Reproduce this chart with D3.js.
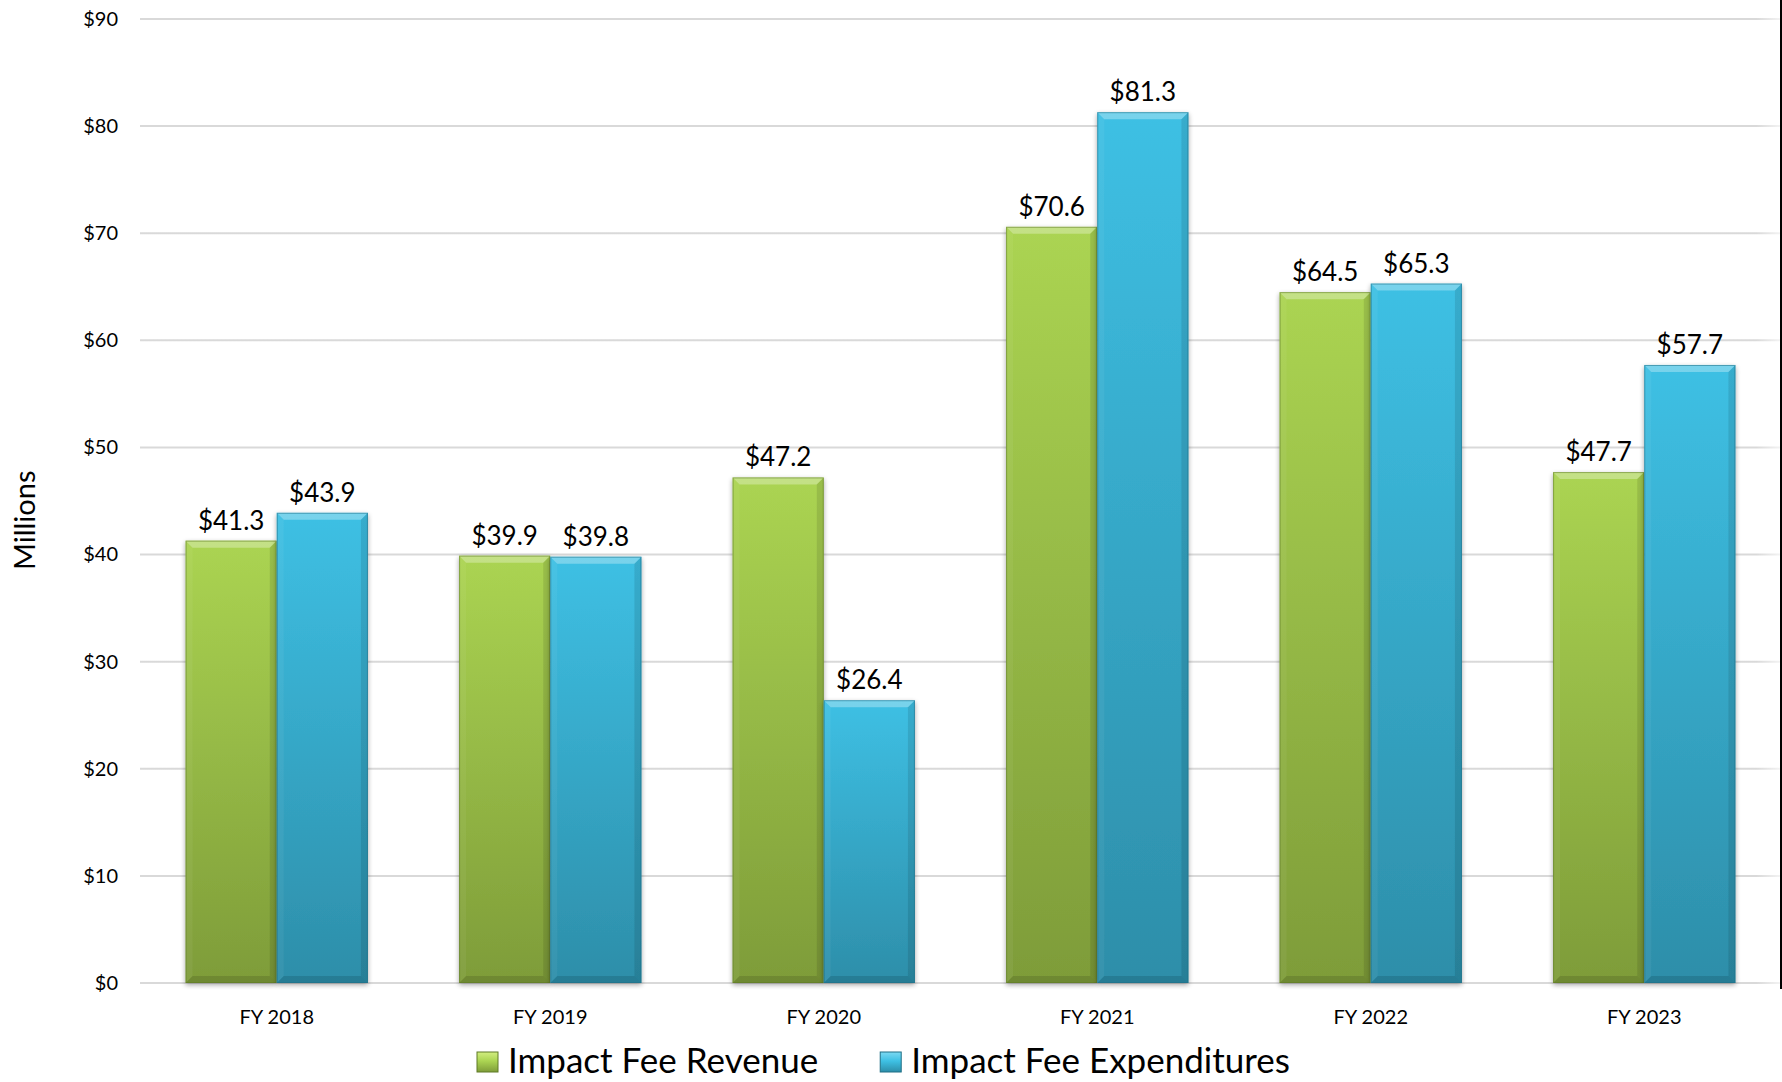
<!DOCTYPE html>
<html>
<head>
<meta charset="utf-8">
<script src="https://cdn.jsdelivr.net/npm/d3@7"></script>
<style>
  html, body { margin: 0; padding: 0; background: #fff; }
  svg { display: block; font-family: Lato, "Open Sans", sans-serif; }
</style>
</head>
<body>
<div id="chart"></div>
<script>
// chart data
var years = ["FY 2018", "FY 2019", "FY 2020", "FY 2021", "FY 2022", "FY 2023"];
var revenue = [41.3, 39.9, 47.2, 70.6, 64.5, 47.7];
var expenditures = [43.9, 39.8, 26.4, 81.3, 65.3, 57.7];
var seriesNames = ["Impact Fee Revenue", "Impact Fee Expenditures"];
var yTicks = [0, 10, 20, 30, 40, 50, 60, 70, 80, 90];

var svgWidth = 1782;
var svgHeight = 1082;

var margin = { top: 19, right: 1, bottom: 99, left: 140 };
var width = svgWidth - margin.left - margin.right;
var height = svgHeight - margin.top - margin.bottom;

var svg = d3.select("#chart")
  .append("svg")
  .attr("width", svgWidth)
  .attr("height", svgHeight);

var defs = svg.append("defs");

// colour ramps for the two series (top -> bottom)
var palettes = [
  { top: "#abd452", bottom: "#7e9c39", edge: "#5f7a26", light: "#d2ee80" },
  { top: "#3ec0e4", bottom: "#2d8ea9", edge: "#1f6f86", light: "#7cd9f2" }
];

palettes.forEach(function(p, i) {
  var g = defs.append("linearGradient")
    .attr("id", "grad" + i)
    .attr("x1", 0).attr("y1", 0).attr("x2", 0).attr("y2", 1);
  g.append("stop").attr("offset", "0%").attr("stop-color", p.top);
  g.append("stop").attr("offset", "100%").attr("stop-color", p.bottom);
});

// soft shadow round the bars
var shadow = defs.append("filter")
  .attr("id", "shadow")
  .attr("x", "-20%").attr("y", "-5%")
  .attr("width", "140%").attr("height", "110%");
shadow.append("feGaussianBlur").attr("in", "SourceAlpha").attr("stdDeviation", 2.5);
shadow.append("feOffset").attr("dx", 0).attr("dy", 2).attr("result", "blur");
shadow.append("feComponentTransfer").append("feFuncA").attr("type", "linear").attr("slope", 0.35);
var merge = shadow.append("feMerge");
merge.append("feMergeNode");
merge.append("feMergeNode").attr("in", "SourceGraphic");

// gridlines fade out at the right edge
var fade = defs.append("linearGradient")
  .attr("id", "gridFade")
  .attr("gradientUnits", "userSpaceOnUse")
  .attr("x1", 0).attr("x2", width).attr("y1", 0).attr("y2", 0);
fade.append("stop").attr("offset", "0.985").attr("stop-color", "#d9d9d9");
fade.append("stop").attr("offset", "1").attr("stop-color", "#f4f4f4");

var chartGroup = svg.append("g")
  .attr("transform", `translate(${margin.left}, ${margin.top})`);

// scales
var xScale = d3.scaleBand()
  .domain(years)
  .range([0, width])
  .paddingInner(1 / 3)
  .paddingOuter(1 / 6);

var xSub = d3.scaleBand()
  .domain([0, 1])
  .range([0, xScale.bandwidth()]);

var yScale = d3.scaleLinear()
  .domain([0, 90])
  .range([height, 0]);

// gridlines
chartGroup.append("g")
  .selectAll("line")
  .data(yTicks)
  .enter()
  .append("line")
  .attr("x1", 0)
  .attr("x2", width)
  .attr("y1", d => yScale(d))
  .attr("y2", d => yScale(d))
  .attr("stroke", "url(#gridFade)")
  .attr("stroke-width", 2);

// y axis labels
var yAxis = d3.axisLeft(yScale)
  .tickValues(yTicks)
  .tickSize(0)
  .tickPadding(22)
  .tickFormat(d => "$" + d);

var yAxisGroup = chartGroup.append("g").call(yAxis);
yAxisGroup.select(".domain").remove();
yAxisGroup.selectAll("text")
  .attr("font-family", "Lato, 'Open Sans', sans-serif")
  .attr("font-size", "20px")
  .attr("fill", "#000");

// x axis labels
var xAxis = d3.axisBottom(xScale).tickSize(0).tickPadding(27);
var xAxisGroup = chartGroup.append("g")
  .attr("transform", `translate(0, ${height})`)
  .call(xAxis);
xAxisGroup.select(".domain").remove();
xAxisGroup.selectAll("text")
  .attr("font-family", "Lato, 'Open Sans', sans-serif")
  .attr("font-size", "20px")
  .attr("fill", "#000");

// y axis title
svg.append("text")
  .attr("transform", "rotate(-90)")
  .attr("x", -(margin.top + yScale(43.2)))
  .attr("y", 35)
  .attr("text-anchor", "middle")
  .attr("font-size", "29px")
  .attr("fill", "#000")
  .text("Millions");

// bars
var barData = [];
years.forEach(function(yr, i) {
  barData.push({ year: yr, s: 0, value: revenue[i] });
  barData.push({ year: yr, s: 1, value: expenditures[i] });
});

var bev = 7;

var bars = chartGroup.append("g")
  .selectAll("g.bar")
  .data(barData)
  .enter()
  .append("g")
  .attr("class", "bar")
  .attr("filter", "url(#shadow)");

bars.append("rect")
  .attr("x", d => xScale(d.year) + xSub(d.s))
  .attr("y", d => yScale(d.value))
  .attr("width", xSub.bandwidth())
  .attr("height", d => height - yScale(d.value))
  .attr("fill", d => "url(#grad" + d.s + ")");

// bevel edges
function bevelPts(d, side) {
  var x0 = xScale(d.year) + xSub(d.s);
  var x1 = x0 + xSub.bandwidth();
  var y0 = yScale(d.value);
  var y1 = height;
  if (side === "top") return [[x0, y0], [x1, y0], [x1 - bev, y0 + bev], [x0 + bev, y0 + bev]];
  if (side === "left") return [[x0, y0], [x0 + bev, y0 + bev], [x0 + bev, y1 - bev], [x0, y1]];
  if (side === "right") return [[x1, y0], [x1, y1], [x1 - bev, y1 - bev], [x1 - bev, y0 + bev]];
  return [[x0, y1], [x0 + bev, y1 - bev], [x1 - bev, y1 - bev], [x1, y1]];
}

var bevelStyle = {
  top: { fill: "#ffffff", op: 0.3 },
  left: { fill: "#ffffff", op: 0.05 },
  right: { fill: "#000000", op: 0.1 },
  bottom: { fill: "#000000", op: 0.12 }
};

["top", "left", "right", "bottom"].forEach(function(side) {
  bars.append("polygon")
    .attr("points", d => bevelPts(d, side).map(p => p.join(",")).join(" "))
    .attr("fill", bevelStyle[side].fill)
    .attr("opacity", bevelStyle[side].op);
});

bars.append("rect")
  .attr("x", d => xScale(d.year) + xSub(d.s) + 0.5)
  .attr("y", d => yScale(d.value) + 0.5)
  .attr("width", xSub.bandwidth() - 1)
  .attr("height", d => height - yScale(d.value) - 1)
  .attr("fill", "none")
  .attr("stroke", d => palettes[d.s].edge)
  .attr("stroke-opacity", 0.55)
  .attr("stroke-width", 1);

// value labels
chartGroup.append("g")
  .selectAll("text")
  .data(barData)
  .enter()
  .append("text")
  .attr("x", d => xScale(d.year) + xSub(d.s) + xSub.bandwidth() / 2)
  .attr("y", d => yScale(d.value) - 11)
  .attr("text-anchor", "middle")
  .attr("font-size", "26px")
  .attr("fill", "#000")
  .text(d => "$" + d.value.toFixed(1));

// legend
var legend = svg.append("g").attr("transform", "translate(477, 1073)");
var lx = 0;
seriesNames.forEach(function(name, i) {
  var item = legend.append("g").attr("transform", `translate(${lx}, 0)`);
  var mg = defs.append("linearGradient")
    .attr("id", "lgrad" + i)
    .attr("x1", 0).attr("y1", 0).attr("x2", 0).attr("y2", 1);
  mg.append("stop").attr("offset", "0%").attr("stop-color", palettes[i].light);
  mg.append("stop").attr("offset", "45%").attr("stop-color", palettes[i].top);
  mg.append("stop").attr("offset", "100%").attr("stop-color", palettes[i].bottom);
  item.append("rect")
    .attr("x", 0).attr("y", -21)
    .attr("width", 21).attr("height", 20)
    .attr("fill", "url(#lgrad" + i + ")")
    .attr("stroke", palettes[i].edge)
    .attr("stroke-width", 1);
  var t = item.append("text")
    .attr("x", 31)
    .attr("y", 0)
    .attr("font-size", "35px")
    .attr("fill", "#000")
    .text(name);
  lx += 31 + t.node().getComputedTextLength() + 62;
});

// frame line at right edge
svg.append("line")
  .attr("x1", svgWidth - 1).attr("x2", svgWidth - 1)
  .attr("y1", 0).attr("y2", margin.top + height + 6)
  .attr("stroke", "#000")
  .attr("stroke-width", 2);
</script>
</body>
</html>
